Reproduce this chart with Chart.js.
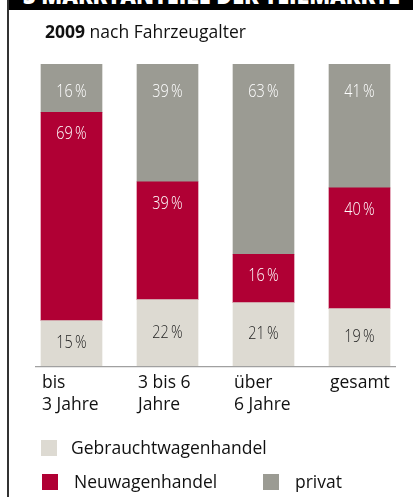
<!DOCTYPE html>
<html><head><meta charset="utf-8">
<script src="https://cdn.jsdelivr.net/npm/chart.js@4"></script>
<style>
html,body{margin:0;padding:0;background:#fff;}
#wrap{position:relative;width:413px;height:497px;overflow:hidden;font-family:"Open Sans",sans-serif;}
#c{position:absolute;left:0;top:0;}
#hdr{position:absolute;left:7px;top:0;width:406px;height:10px;background:#000;overflow:hidden;}
#hdr span{position:absolute;left:16px;top:-20px;color:#fff;font-weight:800;font-size:24px;line-height:30px;white-space:nowrap;transform-origin:0 0;}
#bord{position:absolute;left:7px;top:0;width:2px;height:497px;background:#333;}
#title{position:absolute;left:45px;top:19px;font-size:17.5px;color:#111;white-space:nowrap;}
.lg{position:absolute;font-size:17.5px;color:#111;white-space:nowrap;line-height:20px;}
.sq{position:absolute;width:16px;height:16px;}
</style></head><body>
<div id="wrap">
<canvas id="c" width="413" height="497"></canvas>
<div id="hdr"><span id="hdrt"></span></div>
<div id="bord"></div>
<div id="title"><b>2009</b> nach Fahrzeugalter</div>
<div id="legend"></div>
</div>
<script>
const headerText = "3  MARKTANTEILE DER TEILMÄRKTE";
const categories = [["bis","3 Jahre"],["3 bis 6","Jahre"],["über","6 Jahre"],["gesamt"]];
const seriesNames = ["Gebrauchtwagenhandel","Neuwagenhandel","privat"];
const gebraucht = [15,22,21,19];
const neu = [69,39,16,40];
const privat = [16,39,63,41];
const colors = ["#dddad2","#b00034","#9b9b93"];
const labelColors = ["#222","#fff","#fff"];

const hs = document.getElementById('hdrt');
hs.textContent = headerText;
const w = hs.getBoundingClientRect().width;
hs.style.transform = 'scaleX(' + (377 / w) + ')';

// legend
const lg = document.getElementById('legend');
const legPos = [
  {sx:41, sy:440, tx:71, ty:437},
  {sx:42, sy:474, tx:74, ty:471},
  {sx:263, sy:474, tx:295, ty:471}
];
seriesNames.forEach((n,i)=>{
  const p = legPos[i];
  const s = document.createElement('div'); s.className='sq';
  s.style.left=p.sx+'px'; s.style.top=p.sy+'px'; s.style.background=colors[i];
  lg.appendChild(s);
  const t = document.createElement('div'); t.className='lg';
  t.style.left=p.tx+'px'; t.style.top=p.ty+'px'; t.textContent=n;
  lg.appendChild(t);
});

const segLabels = {
  id:'segLabels',
  afterDatasetsDraw(chart){
    const ctx = chart.ctx;
    chart.data.datasets.forEach((ds,di)=>{
      const meta = chart.getDatasetMeta(di);
      meta.data.forEach((bar,i)=>{
        const top = Math.min(bar.y, bar.base), bot = Math.max(bar.y, bar.base);
        let y;
        if (di===0) y = (top+bot)/2;
        else if (di===1) y = top + 22;
        else y = top + 28;
        ctx.save();
        ctx.translate(bar.x, y);
        ctx.scale(0.8, 1);
        ctx.font = '300 18px "Open Sans"';
        ctx.textAlign = 'center';
        ctx.textBaseline = 'middle';
        ctx.fillStyle = labelColors[di];
        ctx.fillText(ds.data[i] + '\u2009%', 0, 0);
        ctx.restore();
      });
    });
    // axis line
    ctx.save();
    const yb = chart.scales.y.getPixelForValue(0);
    ctx.strokeStyle = '#a0a0a0';
    ctx.lineWidth = 1.3;
    ctx.beginPath();
    ctx.moveTo(35, yb+0.7); ctx.lineTo(396, yb+0.7);
    ctx.stroke();
    ctx.restore();
  }
};

new Chart(document.getElementById('c'), {
  type:'bar',
  data:{
    labels: categories,
    datasets:[
      {label:seriesNames[0], data:gebraucht, backgroundColor:colors[0]},
      {label:seriesNames[1], data:neu, backgroundColor:colors[1]},
      {label:seriesNames[2], data:privat, backgroundColor:colors[2]}
    ]
  },
  options:{
    responsive:false, animation:false,
    layout:{padding:{left:23.5,right:5.5,top:64,bottom:0}},
    plugins:{legend:{display:false}, tooltip:{enabled:false}},
    datasets:{bar:{barThickness:61, borderWidth:0}},
    scales:{
      x:{stacked:true, grid:{display:false, drawTicks:false}, border:{display:false},
         ticks:{align:'start', labelOffset:-29.5, padding:6, color:'#111',
                font:{family:'"Open Sans"', size:17.5, lineHeight:1.25}},
         afterFit(s){ s.height = 131; s.paddingLeft = 0; s.paddingRight = 0; }},
      y:{stacked:true, display:false, min:0, max:100}
    }
  },
  plugins:[segLabels]
});
</script>
</body></html>
